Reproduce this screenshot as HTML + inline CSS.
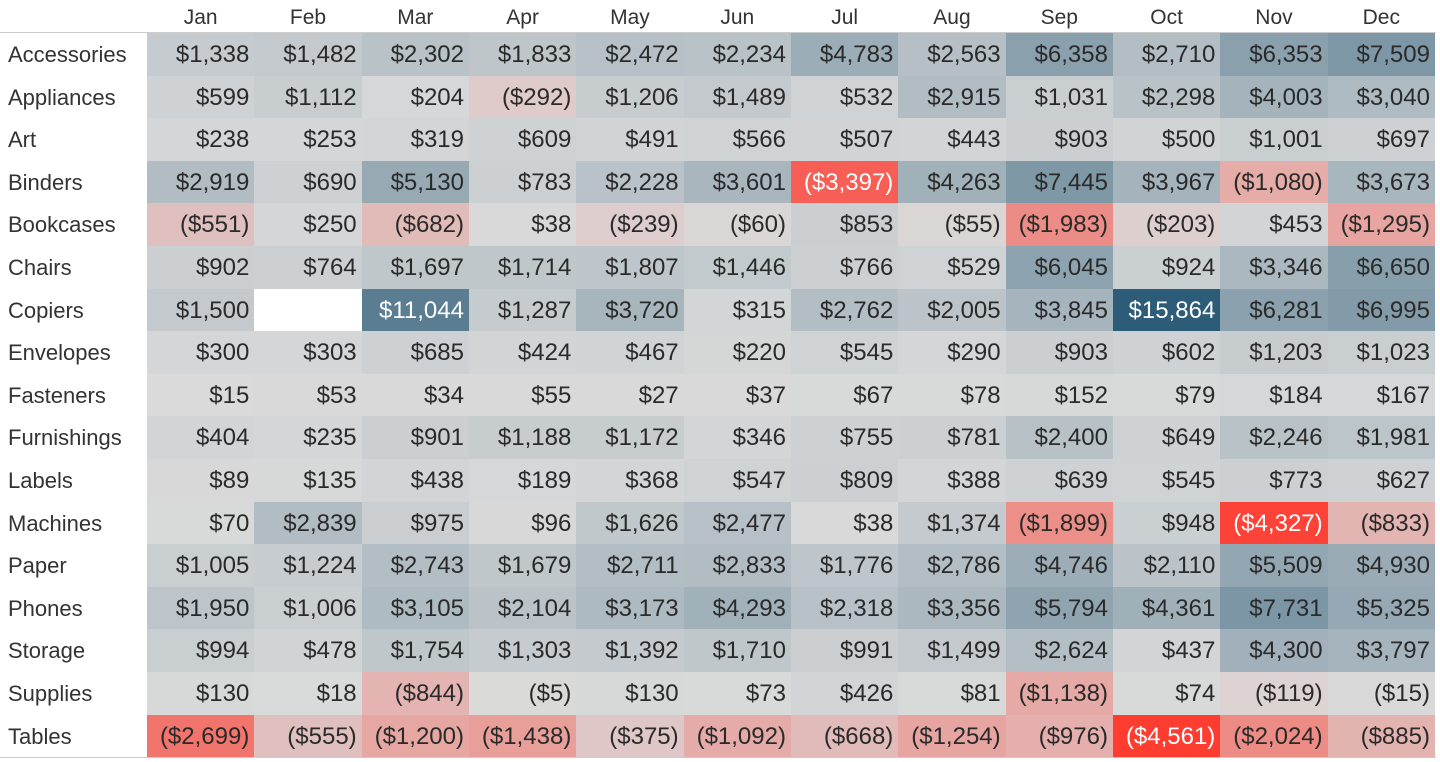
<!DOCTYPE html>
<html><head><meta charset="utf-8"><style>
body{margin:0;background:#fff;width:1440px;height:762px;overflow:hidden;font-family:"Liberation Sans",sans-serif;}
#t{position:absolute;left:0;top:0;}
.h{position:absolute;top:0;height:33px;line-height:35px;text-align:center;font-size:21px;color:#333;}
.r{position:absolute;left:8px;font-size:22px;color:#333;}
.c{position:absolute;box-sizing:border-box;text-align:right;padding-right:5px;font-size:24px;color:#2a2a2a;border-right:1px solid #fff;border-bottom:1px solid #fff;}
</style></head><body><div id="t"></div>
<script>
const months=["Jan","Feb","Mar","Apr","May","Jun","Jul","Aug","Sep","Oct","Nov","Dec"];
const rows=[
["Accessories",[1338,1482,2302,1833,2472,2234,4783,2563,6358,2710,6353,7509]],
["Appliances",[599,1112,204,-292,1206,1489,532,2915,1031,2298,4003,3040]],
["Art",[238,253,319,609,491,566,507,443,903,500,1001,697]],
["Binders",[2919,690,5130,783,2228,3601,-3397,4263,7445,3967,-1080,3673]],
["Bookcases",[-551,250,-682,38,-239,-60,853,-55,-1983,-203,453,-1295]],
["Chairs",[902,764,1697,1714,1807,1446,766,529,6045,924,3346,6650]],
["Copiers",[1500,null,11044,1287,3720,315,2762,2005,3845,15864,6281,6995]],
["Envelopes",[300,303,685,424,467,220,545,290,903,602,1203,1023]],
["Fasteners",[15,53,34,55,27,37,67,78,152,79,184,167]],
["Furnishings",[404,235,901,1188,1172,346,755,781,2400,649,2246,1981]],
["Labels",[89,135,438,189,368,547,809,388,639,545,773,627]],
["Machines",[70,2839,975,96,1626,2477,38,1374,-1899,948,-4327,-833]],
["Paper",[1005,1224,2743,1679,2711,2833,1776,2786,4746,2110,5509,4930]],
["Phones",[1950,1006,3105,2104,3173,4293,2318,3356,5794,4361,7731,5325]],
["Storage",[994,478,1754,1303,1392,1710,991,1499,2624,437,4300,3797]],
["Supplies",[130,18,-844,-5,130,73,426,81,-1138,74,-119,-15]],
["Tables",[-2699,-555,-1200,-1438,-375,-1092,-668,-1254,-976,-4561,-2024,-885]]];
const X0=147,CW=107.33,Y0=33,RH=42.6;
const g=[218,218,218],blue=[44,92,120],red=[255,60,48];
function col(v){let t,e;if(v>=0){t=Math.min(1,v/15864);e=blue;}else{t=Math.min(1,-v/4561);e=red;}
 t=Math.pow(t,0.85);return `rgb(${g.map((a,i)=>Math.round(a+(e[i]-a)*t)).join(",")})`;}
function fmt(v){const s="$"+Math.abs(v).toLocaleString("en-US");return v<0?"("+s+")":s;}
let h="";
months.forEach((m,i)=>{h+=`<div class="h" style="left:${X0+i*CW}px;width:${CW}px">${m}</div>`;});
h+=`<div style="position:absolute;left:0;top:32px;width:1436px;height:1px;background:#ccc"></div>`;
rows.forEach((r,j)=>{const y=Y0+j*RH;
 h+=`<div class="r" style="top:${y}px;height:${RH}px;line-height:${RH+2}px">${r[0]}</div>`;
 r[1].forEach((v,i)=>{const x=X0+i*CW;
  if(v===null){h+=`<div class="c" style="left:${x}px;top:${y}px;width:${CW+1}px;height:${RH+1}px;background:#fff"></div>`;return;}
  const white=(v>10000||v<-3000);
  h+=`<div class="c" style="left:${x}px;top:${y}px;width:${CW+1}px;height:${RH+1}px;line-height:${RH+2}px;background:${col(v)};${white?'color:#fff':''}">${fmt(v)}</div>`;});});
h+=`<div style="position:absolute;left:0;top:757px;width:1436px;height:1px;background:#ccc"></div>`;
document.getElementById("t").innerHTML=h;
</script></body></html>
